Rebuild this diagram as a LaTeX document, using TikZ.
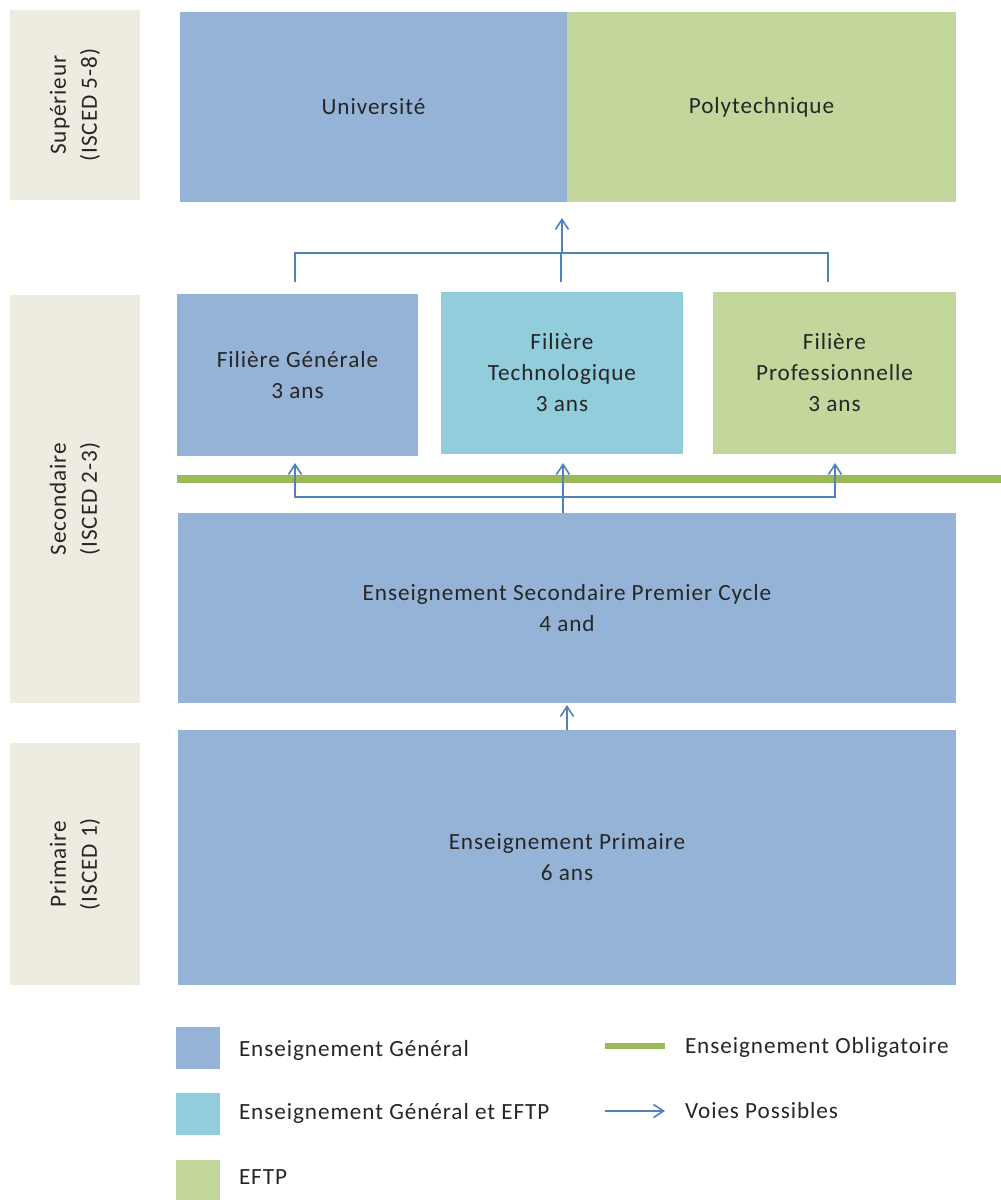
\documentclass[tikz,border=0pt]{standalone}
\usepackage{fontspec}
\setmainfont{Carlito}[LetterSpace=4]
\usetikzlibrary{arrows.meta}

\definecolor{genblue}{HTML}{95B3D7}
\definecolor{techcyan}{HTML}{92CDDC}
\definecolor{eftpgreen}{HTML}{C3D69B}
\definecolor{levelbeige}{HTML}{EEECE1}
\definecolor{obliggreen}{HTML}{9BBB59}
\definecolor{voieblue}{HTML}{4F81BD}

\begin{document}
\begin{tikzpicture}[x=0.5pt,y=-0.5pt,
  every node/.style={inner sep=0pt,outer sep=0pt,text=black!85,
    font=\fontsize{11.6}{15.5}\selectfont,align=center},
  level/.style={fill=levelbeige,minimum height=65pt,rotate=90},
  genbox/.style={fill=genblue},
  techbox/.style={fill=techcyan},
  eftpbox/.style={fill=eftpgreen},
  voie/.style={draw=voieblue,line width=0.8pt},
  voiearrow/.style={voie,-{Straight Barb[length=5pt,width=6.5pt]}},
  oblig/.style={draw=obliggreen,line width=4pt},
  legsq/.style={minimum width=22pt,minimum height=21pt}]
\useasboundingbox (0,0) rectangle (1001,1200);

\node[level,minimum width=95pt] (sup) at (75,105) {Supérieur\\(ISCED 5-8)};
\node[level,minimum width=204pt] (sec) at (75,499) {Secondaire\\(ISCED 2-3)};
\node[level,minimum width=121pt] (pri) at (75,864) {Primaire\\(ISCED 1)};

\node[genbox,minimum width=193.5pt,minimum height=95pt] (univ) at (373.5,107) {Université};
\node[eftpbox,minimum width=194.5pt,minimum height=95pt] (poly) at (761.5,107) {Polytechnique};

\node[genbox,minimum width=120.5pt,minimum height=81pt] (gen) at (297.5,375) {Filière Générale\\3 ans};
\node[techbox,minimum width=121pt,minimum height=81pt] (tech) at (562,373) {Filière\\Technologique\\3 ans};
\node[eftpbox,minimum width=121.5pt,minimum height=81pt] (prof) at (834.5,373) {Filière\\Professionnelle\\3 ans};

\node[genbox,minimum width=389pt,minimum height=95pt] (esc) at (567,608) {Enseignement Secondaire Premier Cycle\\4 and};
\node[genbox,minimum width=389pt,minimum height=127.5pt] (prim) at (567,857.5) {Enseignement Primaire\\6 ans};

\coordinate (oblA) at (177,479);
\coordinate (oblB) at (1001,479);
\draw[oblig] (oblA) -- (oblB);

\coordinate (hub) at (562,253);
\coordinate (tl) at (295,282);
\coordinate (tm) at (561,282);
\coordinate (tr) at (828,282);
\draw[voie] (tl) -- (tl |- hub) -- (tr |- hub) -- (tr);
\draw[voie] (tm) -- (tm |- hub);
\draw[voiearrow,shorten >=8pt] (hub) -- (univ.south -| hub);

\coordinate (bhub) at (563,497);
\coordinate (bl) at (295,463);
\coordinate (bm) at (563,463);
\coordinate (br) at (835,463);
\draw[voie] (esc.north -| bhub) -- (bhub);
\draw[voiearrow] (bhub) -| (bl);
\draw[voiearrow] (bhub) -- (bm);
\draw[voiearrow] (bhub) -| (br);

\draw[voiearrow,shorten >=1pt] (prim.north) -- (esc.south);

\node[genbox,legsq] (lgen) at (198,1048) {};
\node[techbox,legsq] (ltech) at (198,1114) {};
\node[eftpbox,legsq] (leftp) at (198,1181) {};
\node[anchor=west] (tgen) at (239,1050) {Enseignement Général};
\node[anchor=west] (ttech) at (239,1113) {Enseignement Général et EFTP};
\node[anchor=west] (teftp) at (239,1177) {EFTP};

\coordinate (loA) at (605,1046);
\coordinate (loB) at (665,1046);
\draw[oblig,line width=3pt] (loA) -- (loB);
\node[anchor=west] (toblig) at (685,1047) {Enseignement Obligatoire};
\coordinate (lvA) at (605,1111);
\coordinate (lvB) at (665,1111);
\draw[voiearrow] (lvA) -- (lvB);
\node[anchor=west] (tvoie) at (685,1111) {Voies Possibles};
\end{tikzpicture}
\end{document}
